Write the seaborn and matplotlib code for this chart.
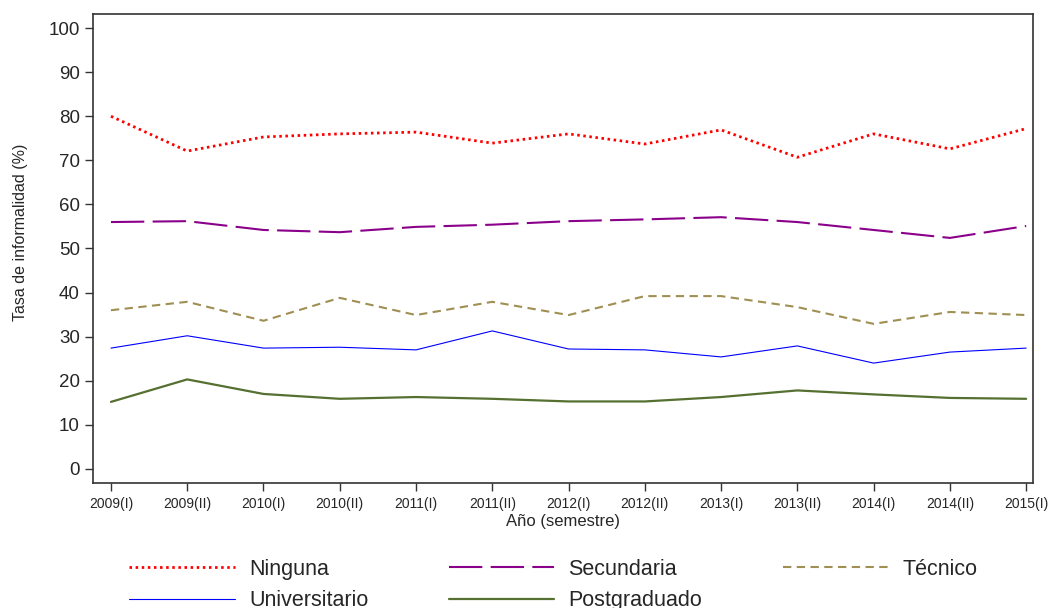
import matplotlib
matplotlib.use("Agg")
import matplotlib.pyplot as plt
import numpy as np
import seaborn as sns

# Datos
semestres = ['2009(I)', '2009(II)', '2010(I)', '2010(II)', '2011(I)', '2011(II)',
             '2012(I)', '2012(II)', '2013(I)', '2013(II)', '2014(I)', '2014(II)', '2015(I)']
ninguna = [80.0, 72.1, 75.3, 76.0, 76.4, 73.9, 76.0, 73.7, 76.9, 70.7, 76.0, 72.6, 77.2]
secundaria = [56.0, 56.2, 54.2, 53.7, 54.9, 55.4, 56.2, 56.6, 57.1, 56.0, 54.2, 52.4, 55.1]
tecnico = [36.0, 37.9, 33.6, 38.8, 34.9, 37.9, 34.9, 39.2, 39.2, 36.7, 32.9, 35.6, 34.9]
universitario = [27.4, 30.2, 27.4, 27.6, 27.0, 31.3, 27.2, 27.0, 25.4, 27.9, 24.0, 26.5, 27.4]
postgraduado = [15.2, 20.3, 17.0, 15.9, 16.3, 15.9, 15.3, 15.3, 16.3, 17.8, 16.9, 16.1, 15.9]

series = [
    ('Ninguna', ninguna, '#FF0000', 2.0, (0, (0.9, 1.3))),
    ('Secundaria', secundaria, '#8B008B', 1.5, (0, (16, 4))),
    ('Técnico', tecnico, '#A08F52', 1.5, (0, (4, 2.6))),
    ('Universitario', universitario, '#0000FF', 0.8, '-'),
    ('Postgraduado', postgraduado, '#557030', 1.6, '-'),
]

sns.set_style("white")
plt.rcParams['font.family'] = ['Liberation Sans', 'DejaVu Sans']

fig = plt.figure(figsize=(10.48, 6.08), dpi=100)
ax = fig.add_axes([0.0887, 0.2056, 0.8970, 0.7714])

x = np.arange(len(semestres))
for nombre, vals, color, lw, ls in series:
    sns.lineplot(x=x, y=vals, ax=ax, color=color, linewidth=lw, linestyle=ls, label=nombre)

ax.set_xlim(-0.236, 12.09)
ax.set_ylim(-3.2, 103.2)
ax.set_xticks(x)
ax.set_xticklabels(semestres, fontsize=10)
ax.set_yticks(np.arange(0, 101, 10))
ax.tick_params(axis='y', labelsize=13.5, length=6, width=1, direction='out', left=True, color='#333333')
ax.tick_params(axis='x', length=6, width=1, direction='out', bottom=True, color='#333333', pad=4)
for s in ax.spines.values():
    s.set_color('#333333')
    s.set_linewidth(1.2)

ax.set_xlabel('Año (semestre)', fontsize=12, labelpad=2)
ax.set_ylabel('Tasa de informalidad (%)', fontsize=11.5)
ax.yaxis.set_label_coords(-0.0695, 0.535)

ax.get_legend().remove()
handles, labels = ax.get_legend_handles_labels()
# orden por filas: Ninguna, Secundaria, Técnico / Universitario, Postgraduado
orden = [0, 3, 1, 4, 2]
fig.legend([handles[i] for i in orden], [labels[i] for i in orden],
           loc='upper left', bbox_to_anchor=(0.105, 0.113), ncol=3,
           frameon=False, fontsize=15.5, handlelength=4.9, columnspacing=3.75,
           handletextpad=0.65, labelspacing=0.5)

fig.savefig('out.png', dpi=100)
